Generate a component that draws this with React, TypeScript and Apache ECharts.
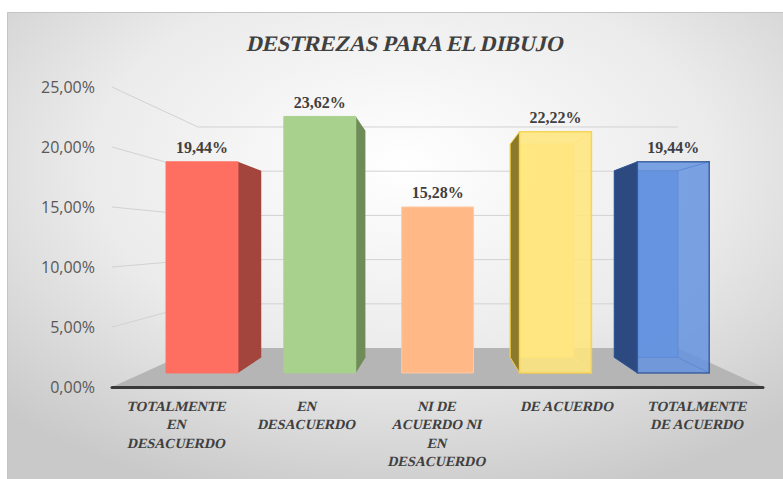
import React, { useEffect, useRef } from "react";
import * as echarts from "echarts";

const title = "DESTREZAS PARA EL DIBUJO";
const categories = [
  "TOTALMENTE\nEN\nDESACUERDO",
  "EN\nDESACUERDO",
  "NI DE\nACUERDO NI\nEN\nDESACUERDO",
  "DE ACUERDO",
  "TOTALMENTE\nDE ACUERDO",
];
const values = [0.1944, 0.2362, 0.1528, 0.2222, 0.1944];
const yTicks = [0, 0.05, 0.1, 0.15, 0.2, 0.25];

const barStyles = [
  { front: "#ff6f61", side: "#a3453d", stroke: "#ff6f61", opacity: 1 },
  { front: "#a9d18e", side: "#6f8c58", stroke: "#a9d18e", opacity: 1 },
  { front: "#ffb886", side: "#c98a5c", stroke: "#ffc9a3", opacity: 1 },
  { front: "#ffe680", side: "#8c7a2c", stroke: "#f5d04a", opacity: 0.88 },
  { front: "#6593df", side: "#2c4a80", stroke: "#2f5597", opacity: 0.85 },
];

const SERIF = "Liberation Serif";
const SKEW = -0.22;
const S_BACK = 0.737;
const S_BAR_FRONT = 0.905;
const S_BAR_BACK = 0.8;

const fmtPct = (v: number) => (v * 100).toFixed(2).replace(".", ",") + "%";

function frame(api: any) {
  const band = api.size([1, 0])[0];
  const left = api.coord([0, 0])[0] - band / 2;
  const right = api.coord([categories.length - 1, 0])[0] + band / 2;
  const y0 = api.coord([0, 0])[1];
  const yTop = api.coord([0, yTicks[yTicks.length - 1]])[1];
  const vp = [(left + right) / 2 + 1.5, (y0 + yTop) / 2 + 2];
  const P = (x: number, y: number, s: number) => [vp[0] + (x - vp[0]) * s, vp[1] + (y - vp[1]) * s];
  return { band, left, right, y0, vp, P };
}

export default function App() {
  const ref = useRef<HTMLDivElement>(null);
  useEffect(() => {
    document.body.style.margin = "0";
    const chart = echarts.init(ref.current!, undefined, { renderer: "svg" });
    const wallRender = (_params: any, api: any) => {
      const { left, right, y0, P } = frame(api);
      const children: any[] = [];
      children.push({
        type: "polygon",
        shape: { points: [P(left, y0, 1), P(right, y0, 1), P(right, y0, S_BACK), P(left, y0, S_BACK)] },
        style: { fill: "#b5b5b5" },
      });
      yTicks.forEach((t) => {
        if (t === 0) return;
        const y = api.coord([0, t])[1];
        const a = P(left, y, 1);
        const b = P(left, y, S_BACK);
        const c = P(right, y, S_BACK);
        children.push({ type: "line", shape: { x1: a[0], y1: a[1], x2: b[0], y2: b[1] }, style: { stroke: "#d2d2d2", lineWidth: 1 } });
        children.push({ type: "line", shape: { x1: b[0], y1: b[1], x2: c[0], y2: c[1] }, style: { stroke: "#d2d2d2", lineWidth: 1 } });
      });
      categories.forEach((c, i) => {
        const [cx, cy] = api.coord([i, 0]);
        c.split("\n").forEach((line, k) => {
          children.push({
            type: "text",
            x: cx,
            y: cy + 19 + k * 18.5,
            skewX: SKEW,
            style: {
              text: line,
              x: 0,
              y: 0,
              align: "center",
              verticalAlign: "middle",
              fill: "#404040",
              fontFamily: SERIF,
              fontWeight: "bold",
              fontSize: 14,
            },
          });
        });
      });
      return { type: "group", children };
    };
    const barRender = (params: any, api: any) => {
      const i = api.value(0);
      const v = api.value(1);
      const { band, vp, P } = frame(api);
      const st = barStyles[params.dataIndex];
      const [cx, ty] = api.coord([i, v]);
      const by = api.coord([i, 0])[1];
      const w = band * 0.61;
      const x0 = cx - w / 2;
      const x1 = cx + w / 2;
      const fTL = P(x0, ty, S_BAR_FRONT), fTR = P(x1, ty, S_BAR_FRONT);
      const fBL = P(x0, by, S_BAR_FRONT), fBR = P(x1, by, S_BAR_FRONT);
      const bTL = P(x0, ty, S_BAR_BACK), bTR = P(x1, ty, S_BAR_BACK);
      const bBL = P(x0, by, S_BAR_BACK), bBR = P(x1, by, S_BAR_BACK);
      const children: any[] = [];
      if (st.opacity < 1) {
        children.push({
          type: "polygon",
          shape: { points: [bTL, bTR, bBR, bBL] },
          style: { fill: st.front, stroke: st.stroke, lineWidth: 1, opacity: 0.9 },
        });
        children.push({ type: "line", shape: { x1: bTR[0], y1: bTR[1], x2: fTR[0], y2: fTR[1] }, style: { stroke: st.stroke, lineWidth: 1 } });
        children.push({ type: "line", shape: { x1: bBR[0], y1: bBR[1], x2: fBR[0], y2: fBR[1] }, style: { stroke: st.stroke, lineWidth: 1 } });
      }
      if (x1 < vp[0] - 1) {
        children.push({ type: "polygon", shape: { points: [fTR, bTR, bBR, fBR] }, style: { fill: st.side } });
      }
      if (x0 > vp[0] + 1) {
        children.push({
          type: "polygon",
          shape: { points: [bTL, fTL, fBL, bBL] },
          style: { fill: st.side, stroke: st.stroke, lineWidth: 1 },
        });
      }
      children.push({
        type: "rect",
        shape: { x: fTL[0], y: fTL[1], width: fTR[0] - fTL[0], height: fBL[1] - fTL[1] },
        style: { fill: st.front, stroke: st.stroke, lineWidth: st.opacity < 1 ? 1.5 : 1, opacity: st.opacity },
      });
      children.push({
        type: "text",
        style: {
          text: fmtPct(v),
          x: (fTL[0] + fTR[0]) / 2,
          y: fTL[1] - 14,
          align: "center",
          verticalAlign: "middle",
          fill: "#404040",
          fontFamily: SERIF,
          fontWeight: "bold",
          fontSize: 16,
        },
      });
      return { type: "group", children };
    };
    chart.setOption({
      animation: false,
      graphic: [
        {
          type: "rect",
          z: -100,
          silent: true,
          shape: { x: 7.5, y: 12.5, width: 790, height: 480 },
          style: {
            fill: new echarts.graphic.RadialGradient(0.5, 0.32, 0.72, [
              { offset: 0, color: "#ffffff" },
              { offset: 0.55, color: "#ebebeb" },
              { offset: 1, color: "#c9c9c9" },
            ]),
            stroke: "#c4c4c4",
            lineWidth: 1,
          },
        },
        {
          type: "text",
          z: 10,
          x: 406,
          y: 44,
          skewX: SKEW,
          style: {
            text: title,
            x: 0,
            y: 0,
            align: "center",
            verticalAlign: "middle",
            fill: "#404040",
            fontFamily: SERIF,
            fontWeight: "bold",
            fontSize: 22,
          },
        },
      ],
      grid: { left: 112, right: 20, top: 87, bottom: 92 },
      xAxis: {
        type: "category",
        data: categories,
        z: 5,
        axisLine: { show: true, lineStyle: { color: "#3a3a3a", width: 3 } },
        axisTick: { show: false },
        axisLabel: { show: false },
        splitLine: { show: false },
      },
      yAxis: {
        type: "value",
        min: 0,
        max: 0.25,
        interval: 0.05,
        axisLine: { show: false },
        axisTick: { show: false },
        splitLine: { show: false },
        axisLabel: {
          margin: 17,
          color: "#595959",
          fontFamily: "Open Sans",
          fontSize: 16,
          formatter: (v: number) => fmtPct(v),
        },
      },
      series: [
        {
          type: "custom",
          z: 1,
          silent: true,
          renderItem: wallRender,
          data: [[0, 0]],
        },
        {
          type: "custom",
          z: 2,
          renderItem: barRender,
          data: values.map((v, i) => [i, v]),
        },
      ],
    });
    return () => chart.dispose();
  }, []);
  return <div ref={ref} style={{ position: "fixed", left: 0, top: 0, width: 783, height: 479, background: "#fff" }} />;
}
